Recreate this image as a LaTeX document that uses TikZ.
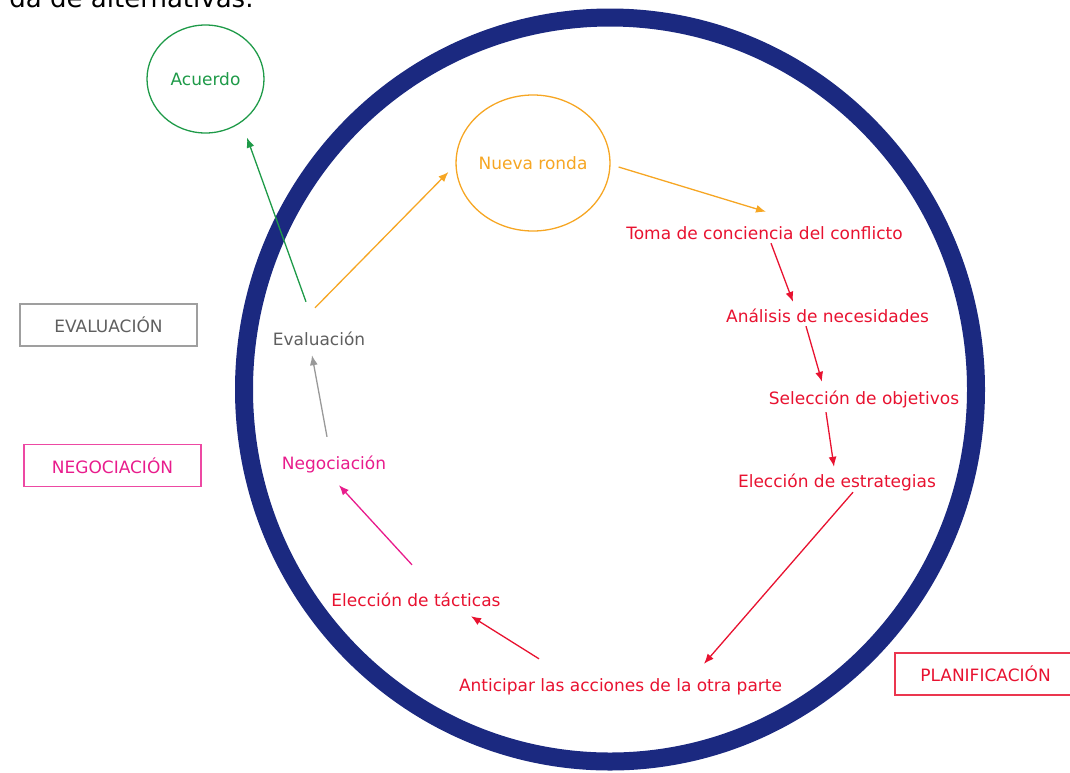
\documentclass[tikz,border=0pt]{standalone}
\usepackage{fontspec}
\setmainfont{DejaVu Sans}
\usetikzlibrary{arrows.meta,shapes.geometric}
\definecolor{ringblue}{RGB}{27,41,128}
\definecolor{planred}{RGB}{232,18,48}
\definecolor{negpink}{RGB}{232,28,140}
\definecolor{evalgray}{RGB}{95,95,95}
\definecolor{rondaorange}{RGB}{246,166,35}
\definecolor{agreegreen}{RGB}{30,154,72}

\begin{document}
\begin{tikzpicture}[x=1pt,y=-1pt,>={Latex[length=10pt,width=8pt]},
  font=\fontsize{17}{20}\selectfont,
  stagelabel/.style={inner sep=0pt,text height=13pt,text depth=4pt,anchor=base},
  phasebox/.style={draw,line width=1.3pt,inner sep=0pt,
    minimum width=177pt,minimum height=42pt},
  flow/.style={->,line width=1.3pt}]
  \useasboundingbox (0,0) rectangle (1070,772);
  \clip (0,0) rectangle (1070,772);

  \node[anchor=base east,font=\fontsize{26}{30}\selectfont] (heading)
    at (257,7) {da de alternativas.};

  \node[ellipse,draw=ringblue,line width=18pt,inner sep=0pt,
    minimum width=732pt,minimum height=744pt] (ring) at (610,389.5) {};

  \node[ellipse,draw=agreegreen,line width=1.3pt,inner sep=0pt,
    minimum width=117pt,minimum height=108pt,text=agreegreen]
    (acuerdo) at (205.5,79) {Acuerdo};
  \node[ellipse,draw=rondaorange,line width=1.3pt,inner sep=0pt,
    minimum width=148pt,minimum height=136pt,text=rondaorange]
    (ronda) at (533,163) {Nueva ronda};

  \node[stagelabel,text=planred] (toma) at (764.5,239)
    {Toma de conciencia del conflicto};
  \node[stagelabel,text=planred] (analisis) at (827.5,322)
    {Análisis de necesidades};
  \node[stagelabel,text=planred] (seleccion) at (864,404)
    {Selección de objetivos};
  \node[stagelabel,text=planred] (estrategias) at (837,487)
    {Elección de estrategias};
  \node[stagelabel,text=planred] (anticipar) at (620.5,691)
    {Anticipar las acciones de la otra parte};
  \node[stagelabel,text=planred] (tacticas) at (416,606)
    {Elección de tácticas};
  \node[stagelabel,text=negpink] (negociacion) at (334,469) {Negociación};
  \node[stagelabel,text=evalgray] (evaluacion) at (319,345) {Evaluación};

  \node[phasebox,draw=gray!75,text=evalgray] (evalbox)
    at (108.5,325) {EVALUACIÓN};
  \node[phasebox,draw=negpink!80,text=negpink] (negbox)
    at (112.5,465.5) {NEGOCIACIÓN};
  \node[phasebox,draw=planred!85,text=planred,minimum width=181pt] (planbox)
    at (985.5,674) {PLANIFICACIÓN};

  \draw[flow,planred] ([xshift=6.5pt]toma.south) --
    ([xshift=-34.5pt,yshift=7pt]analisis.north);
  \draw[flow,planred] ([xshift=-21.5pt]analisis.south) --
    ([xshift=-42pt,yshift=9pt]seleccion.north);
  \draw[flow,planred] ([xshift=-38pt,yshift=-4pt]seleccion.south) --
    ([xshift=-3pt,yshift=7pt]estrategias.north);
  \draw[flow,planred] ([xshift=16pt,yshift=-1pt]estrategias.south) --
    ([xshift=83.5pt,yshift=14pt]anticipar.north);
  \draw[flow,planred] ([xshift=-81.5pt,yshift=19pt]anticipar.north) --
    ([xshift=55pt,yshift=-6pt]tacticas.south);
  \draw[flow,negpink] ([xshift=-4pt,yshift=28pt]tacticas.north) --
    ([xshift=5pt,yshift=-12pt]negociacion.south);
  \draw[flow,gray!80] ([xshift=-7pt,yshift=19pt]negociacion.north) --
    ([xshift=-7pt,yshift=-6pt]evaluacion.south);
  \draw[flow,agreegreen] ([xshift=-13pt,yshift=30pt]evaluacion.north) --
    ([xshift=41.5pt,yshift=-4pt]acuerdo.south);
  \draw[flow,rondaorange] ([xshift=-4pt,yshift=24pt]evaluacion.north) --
    ([xshift=-7pt,yshift=-9pt]ronda.west);
  \draw[flow,rondaorange] ([xshift=8pt,yshift=-4pt]ronda.east) --
    ([xshift=1.5pt,yshift=14pt]toma.north);
\end{tikzpicture}
\end{document}
